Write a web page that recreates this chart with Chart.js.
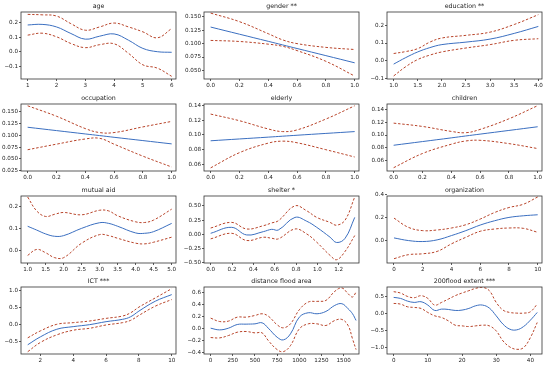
<!DOCTYPE html>
<html><head><meta charset="utf-8">
<script src="https://cdn.jsdelivr.net/npm/chart.js@4/dist/chart.umd.min.js"></script>
<style>
html,body{margin:0;padding:0;background:#fff;width:550px;height:369px;overflow:hidden}
canvas{position:absolute}
</style></head><body>
<script>
// ---------- data ----------
const titles = ["age","gender **","education **","occupation","elderly","children","mutual aid","shelter *","organization","ICT ***","distance flood area","200flood extent ***"];

const ageX = [1,1.5,2,2.5,3,3.5,4,4.5,5,5.5,6];
const ageFit = [0.181,0.185,0.168,0.124,0.086,0.106,0.121,0.079,0.024,0.002,-0.002];
const ageUp = [0.252,0.249,0.241,0.19,0.146,0.168,0.194,0.168,0.135,0.095,0.157];
const ageLo = [0.113,0.126,0.102,0.057,0.029,0.049,0.055,-0.009,-0.086,-0.108,-0.163];

const genderX = [0,0.2,0.4,0.5,0.6,0.8,1.0];
const genderFit = [0.1309,0.1176,0.1043,0.0976,0.0909,0.0776,0.0642];
const genderUp = [0.157,0.141,0.1185,0.107,0.100,0.093,0.089];
const genderLo = [0.106,0.104,0.099,0.095,0.087,0.067,0.0395];

const eduX = [1.0,1.25,1.5,1.75,2.0,2.5,3.0,3.5,4.0];
const eduFit = [-0.0185,0.018,0.05,0.074,0.091,0.105,0.122,0.154,0.193];
const eduUp = [0.041,0.052,0.0685,0.105,0.128,0.143,0.161,0.204,0.259];
const eduLo = [-0.085,-0.033,0.0074,0.032,0.05,0.072,0.091,0.115,0.124];

const occX = [0,0.2,0.4,0.5,0.6,0.8,1.0];
const occFit = [0.1173,0.1102,0.1031,0.0996,0.0960,0.0890,0.082];
const occUp = [0.1628,0.1407,0.1145,0.106,0.106,0.118,0.1297];
const occLo = [0.0696,0.0814,0.0924,0.0938,0.0814,0.056,0.033];

const eldX = [0,0.2,0.4,0.5,0.6,0.8,1.0];
const eldFit = [0.0919,0.0944,0.0969,0.0982,0.0995,0.1020,0.1045];
const eldUp = [0.1285,0.1194,0.1081,0.1045,0.1068,0.1217,0.1398];
const eldLo = [0.0548,0.0756,0.0887,0.0914,0.0892,0.0797,0.0697];

const chiX = [0,0.2,0.4,0.5,0.6,0.8,1.0];
const chiFit = [0.0839,0.0897,0.0955,0.0985,0.1014,0.1072,0.113];
const chiUp = [0.1187,0.1135,0.1057,0.1036,0.1088,0.1255,0.1462];
const chiLo = [0.0486,0.0709,0.0855,0.0906,0.0917,0.0865,0.0787];

const mutX = [1.0,1.25,1.5,1.75,2.0,2.5,3.0,3.25,3.5,4.0,4.25,4.5,5.0];
const mutFit = [0.110,0.093,0.0756,0.065,0.068,0.1007,0.126,0.123,0.11,0.08,0.0785,0.086,0.123];
const mutUp = [0.2415,0.179,0.154,0.164,0.172,0.1615,0.182,0.179,0.157,0.130,0.127,0.138,0.187];
const mutLo = [-0.021,0.006,-0.009,-0.031,-0.031,0.034,0.0726,0.068,0.056,0.034,0.031,0.0385,0.061];

const shelX = [0,0.197,0.3375,0.494,0.572,0.634,0.79,0.9,0.994,1.119,1.181,1.26,1.35];
const shelFit = [0.017,0.122,-0.012,0.0465,0.087,0.075,0.297,0.23,0.122,-0.052,-0.145,-0.07,0.297];
const shelUp = [0.11,0.209,0.093,0.151,0.2,0.238,0.5,0.413,0.297,0.209,0.16,0.25,0.657];
const shelLo = [-0.081,0.017,-0.11,-0.052,-0.07,-0.081,0.093,0.006,-0.14,-0.372,-0.448,-0.3,-0.023];

const orgX = [0,1,2,3,4,5,6,7,8,9,10];
const orgFit = [0.0204,-0.003,-0.0117,0.003,0.041,0.0847,0.134,0.172,0.2015,0.216,0.225];
const orgUp = [0.1956,0.114,0.0847,0.0905,0.108,0.137,0.187,0.245,0.289,0.318,0.3825];
const orgLo = [-0.1635,-0.128,-0.12,-0.099,-0.032,0.026,0.079,0.099,0.108,0.105,0.07];

const ictX = [1.23,2,3,4,5,6,7,7.5,8,9,10];
const ictFit = [-0.608,-0.373,-0.147,-0.069,-0.01,0.078,0.147,0.225,0.392,0.686,0.882];
const ictUp = [-0.402,-0.196,0,0.049,0.098,0.176,0.245,0.343,0.51,0.784,1.059];
const ictLo = [-0.814,-0.539,-0.314,-0.176,-0.118,-0.02,0.049,0.118,0.265,0.539,0.735];

const distX = [0,100,200,300,400,500,580,650,750,820,900,1000,1100,1200,1300,1400,1480,1550,1600,1640];
const distFit = [0.011,-0.017,0.011,0.072,0.078,0.083,0.1,0.011,-0.139,-0.183,-0.083,0.194,0.267,0.25,0.289,0.389,0.417,0.333,0.25,0.139];
const distUp = [0.178,0.122,0.128,0.194,0.194,0.222,0.25,0.211,0.067,0.017,0.083,0.317,0.444,0.456,0.472,0.622,0.678,0.583,0.528,0.611];
const distLo = [-0.144,-0.15,-0.111,-0.056,-0.044,-0.067,-0.067,-0.194,-0.344,-0.378,-0.278,0,0.083,0.083,0.056,0.139,0.156,0.056,-0.167,-0.344];

const floodX = [0,2,4,6,8,10,12,14,16,18,20,22,24,26,28,30,32,34,36,38,40,42];
const floodFit = [0.48,0.45,0.373,0.333,0.353,0.255,0.098,0.137,0.127,0.098,0.108,0.157,0.235,0.255,0.167,-0.059,-0.304,-0.451,-0.47,-0.373,-0.186,0.039];
const floodUp = [0.647,0.608,0.51,0.47,0.53,0.45,0.255,0.333,0.431,0.53,0.608,0.676,0.745,0.775,0.676,0.333,0.108,0.039,0.02,0.02,0.059,0.284];
const floodLo = [0.304,0.284,0.206,0.186,0.157,0.039,-0.059,-0.108,-0.206,-0.333,-0.353,-0.373,-0.353,-0.333,-0.353,-0.5,-0.794,-0.971,-1.039,-0.99,-0.696,-0.255];

// tick values and labels
const xT01 = [0,0.2,0.4,0.6,0.8,1.0], xL01 = ["0.0","0.2","0.4","0.6","0.8","1.0"];
const xTicks = [
  [1,2,3,4,5,6], xT01, [1,1.5,2,2.5,3,3.5,4],
  xT01, xT01, xT01,
  [1,1.5,2,2.5,3,3.5,4,4.5,5], [0,0.2,0.4,0.6,0.8,1.0,1.2], [0,2,4,6,8,10],
  [2,4,6,8,10], [0,250,500,750,1000,1250,1500], [0,10,20,30,40]
];
const xLabels = [
  ["1","2","3","4","5","6"], xL01, ["1.0","1.5","2.0","2.5","3.0","3.5","4.0"],
  xL01, xL01, xL01,
  ["1.0","1.5","2.0","2.5","3.0","3.5","4.0","4.5","5.0"], ["0.0","0.2","0.4","0.6","0.8","1.0","1.2"], ["0","2","4","6","8","10"],
  ["2","4","6","8","10"], ["0","250","500","750","1000","1250","1500"], ["0","10","20","30","40"]
];
const yTicks = [
  [-0.1,0,0.1,0.2], [0.05,0.075,0.1,0.125,0.15], [-0.1,0,0.1,0.2],
  [0.025,0.05,0.075,0.1,0.125,0.15], [0.06,0.08,0.10,0.12,0.14], [0.06,0.08,0.10,0.12,0.14],
  [0,0.1,0.2], [-0.5,-0.25,0,0.25,0.5], [0,0.2,0.4],
  [-0.5,0,0.5,1.0], [-0.4,-0.2,0,0.2,0.4,0.6], [-1.0,-0.5,0,0.5]
];
const yLabels = [
  ["\u22120.1","0.0","0.1","0.2"], ["0.050","0.075","0.100","0.125","0.150"], ["\u22120.1","0.0","0.1","0.2"],
  ["0.025","0.050","0.075","0.100","0.125","0.150"], ["0.06","0.08","0.10","0.12","0.14"], ["0.06","0.08","0.10","0.12","0.14"],
  ["0.0","0.1","0.2"], ["\u22120.50","\u22120.25","0.00","0.25","0.50"], ["0.0","0.2","0.4"],
  ["\u22120.5","0.0","0.5","1.0"], ["\u22120.4","\u22120.2","0.0","0.2","0.4","0.6"], ["\u22121.0","\u22120.5","0.0","0.5"]
];
const xRange = [[0.768,6.15],[-0.046,1.03],[0.862,4.076],[-0.046,1.03],[-0.046,1.03],[-0.046,1.03],[0.815,5.12],[-0.0625,1.39],[-0.487,10.3],[0.82,10.26],[-75,1673],[-1.95,43.4]];
const yRange = [[-0.181,0.268],[0.034,0.159],[-0.102,0.274],[0.0245,0.1666],[0.0505,0.1423],[0.0434,0.1488],[-0.055,0.246],[-0.506,0.674],[-0.2015,0.391],[-0.882,1.108],[-0.417,0.694],[-1.176,0.784]];

const seriesX = [ageX,genderX,eduX,occX,eldX,chiX,mutX,shelX,orgX,ictX,distX,floodX];
const seriesFit = [ageFit,genderFit,eduFit,occFit,eldFit,chiFit,mutFit,shelFit,orgFit,ictFit,distFit,floodFit];
const seriesUp = [ageUp,genderUp,eduUp,occUp,eldUp,chiUp,mutUp,shelUp,orgUp,ictUp,distUp,floodUp];
const seriesLo = [ageLo,genderLo,eduLo,occLo,eldLo,chiLo,mutLo,shelLo,orgLo,ictLo,distLo,floodLo];

// ---------- layout ----------
const colX = [0,183,366], colW = [183,183,184];
const rowY = [0,92,184,276], rowH = [92,92,92,93];
const FONT = "DejaVu Sans";
const BLUE = "#3b6fc0", RED = "#b8442a", AX = "#333";

const framePlugin = {
  id: 'frame',
  afterDraw(chart) {
    const {ctx, chartArea: a} = chart;
    ctx.save();
    ctx.strokeStyle = AX; ctx.lineWidth = 0.8;
    ctx.strokeRect(a.left, a.top, a.right - a.left, a.bottom - a.top);
    ctx.fillStyle = "#222";
    ctx.font = "6.3px '" + FONT + "'";
    ctx.textAlign = "center"; ctx.textBaseline = "bottom";
    ctx.fillText(chart.options.plugins.frame.title, (a.left + a.right) / 2, a.top - 2.5);
    ctx.restore();
  }
};

for (let i = 0; i < 12; i++) {
  const r = Math.floor(i / 3), c = i % 3;
  const cv = document.createElement('canvas');
  cv.width = colW[c]; cv.height = rowH[r];
  cv.style.left = colX[c] + 'px'; cv.style.top = rowY[r] + 'px';
  document.body.appendChild(cv);
  const top = r === 3 ? 11 : 12, bottom = r === 3 ? 78 : 79;
  const mk = (arr) => seriesX[i].map((x, k) => ({x: x, y: arr[k]}));
  const xs = xTicks[i], xl = xLabels[i], ys = yTicks[i], yl = yLabels[i];
  new Chart(cv, {
    type: 'line',
    data: { datasets: [
      {data: mk(seriesUp[i]), borderColor: RED, borderWidth: 1, borderDash: [2.5, 1.8], pointRadius: 0, tension: 0.4, fill: false},
      {data: mk(seriesLo[i]), borderColor: RED, borderWidth: 1, borderDash: [2.5, 1.8], pointRadius: 0, tension: 0.4, fill: false},
      {data: mk(seriesFit[i]), borderColor: BLUE, borderWidth: 1, pointRadius: 0, tension: 0.4, fill: false}
    ]},
    options: {
      responsive: false, animation: false, devicePixelRatio: 1,
      layout: {padding: {left: 0, right: colW[c] - 176, top: top, bottom: 0}},
      plugins: {legend: {display: false}, tooltip: {enabled: false}, title: {display: false}, frame: {title: titles[i]}},
      scales: {
        x: {
          type: 'linear', min: xRange[i][0], max: xRange[i][1],
          border: {display: false},
          grid: {drawOnChartArea: false, drawTicks: true, tickLength: 2, color: AX, lineWidth: 0.8},
          ticks: {autoSkip: false, maxRotation: 0, padding: 1, color: "#222", font: {family: FONT, size: 5.6},
                  callback: (v, idx) => xl[idx]},
          afterBuildTicks: (s) => { s.ticks = xs.map(v => ({value: v})); },
          afterFit: (s) => { s.height = rowH[r] - bottom; }
        },
        y: {
          type: 'linear', min: yRange[i][0], max: yRange[i][1],
          border: {display: false},
          grid: {drawOnChartArea: false, drawTicks: true, tickLength: 2, color: AX, lineWidth: 0.8},
          ticks: {autoSkip: false, padding: 1, color: "#222", font: {family: FONT, size: 5.6},
                  callback: (v, idx) => yl[idx]},
          afterBuildTicks: (s) => { s.ticks = ys.map(v => ({value: v})); },
          afterFit: (s) => { s.width = 21; }
        }
      }
    },
    plugins: [framePlugin]
  });
}
</script>
</body></html>
